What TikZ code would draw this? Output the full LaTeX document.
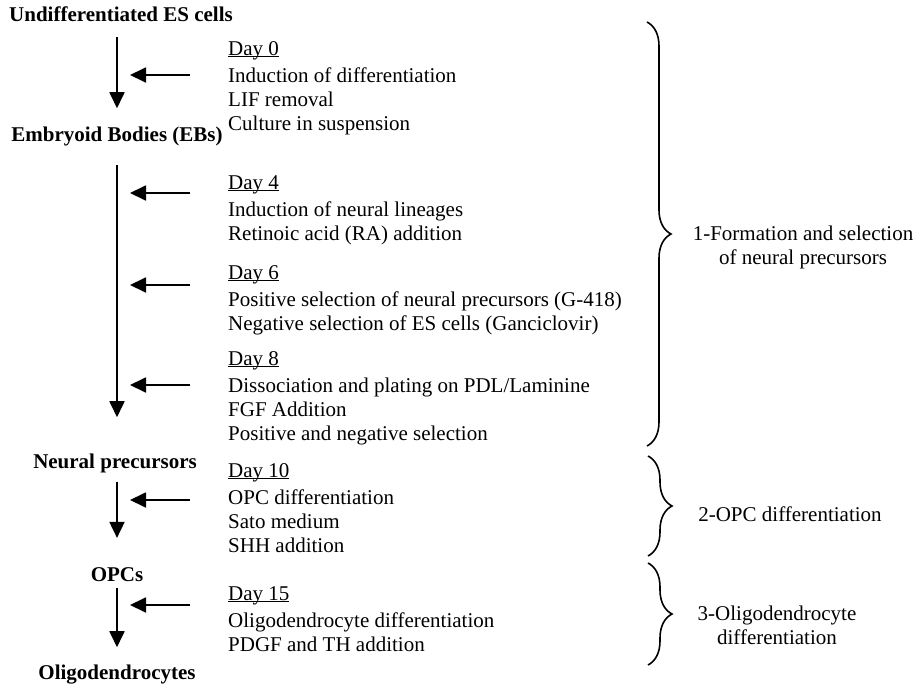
\documentclass[tikz,border=0pt]{standalone}
\usepackage{fontspec}
\setmainfont{Liberation Serif}
\usetikzlibrary{arrows.meta,decorations.pathreplacing}

\tikzset{
    stage/.style={font=\fontsize{21}{24}\selectfont\bfseries, inner sep=0pt, anchor=base},
    daytext/.style={font=\fontsize{21}{24}\selectfont, align=left, inner sep=0pt, anchor=north west},
    phasetext/.style={font=\fontsize{21}{24}\selectfont, align=center, inner sep=0pt, anchor=north},
    flow/.style={line width=1.8pt, -{Triangle[width=15pt,length=16pt]}},
    phase/.style={line width=1.6pt, decorate, decoration={brace, amplitude=24pt}}
}
\newcommand{\dayhead}[1]{\rule{0pt}{16pt}\underline{\smash{Day #1}}\\[3pt]}

\begin{document}
\begin{tikzpicture}[x=1pt, y=1pt]
            \useasboundingbox (0,0) rectangle (922,-688);
            \coordinate (ax) at (117,0);

            % Stages
            \node[stage] (es) at (121,-21) {Undifferentiated ES cells};
            \node[stage] (ebs) at (117,-141) {Embryoid Bodies (EBs)};
            \node[stage] (np) at (115,-468) {Neural precursors};
            \node[stage] (opc) at (117,-581) {OPCs};
            \node[stage] (oligo) at (117,-679) {Oligodendrocytes};

            \draw[flow, shorten <=16pt, shorten >=18pt] (es.south -| ax) -- (ebs.north -| ax);
            \draw[flow, shorten <=19pt, shorten >=36pt] (ebs.south -| ax) -- (np.north -| ax);
            \draw[flow, shorten <=9pt, shorten >=29pt] (np.south -| ax) -- (opc.north -| ax);
            \draw[flow, shorten <=7pt, shorten >=17pt] (opc.south -| ax) -- (oligo.north -| ax);

            % Treatments
            \node[daytext] (d0) at (228,-39) {\dayhead{0}Induction of differentiation\\ LIF removal\\ Culture in suspension};
            \node[daytext] (d4) at (228,-173) {\dayhead{4}Induction of neural lineages\\ Retinoic acid (RA) addition};
            \node[daytext] (d6) at (228,-263) {\dayhead{6}Positive selection of neural precursors (G-418)\\ Negative selection of ES cells (Ganciclovir)};
            \node[daytext] (d8) at (228,-349) {\dayhead{8}Dissociation and plating on PDL/Laminine\\ FGF Addition\\ Positive and negative selection};
            \node[daytext] (d10) at (228,-461) {\dayhead{10}OPC differentiation\\ Sato medium\\ SHH addition};
            \node[daytext] (d15) at (228,-584) {\dayhead{15}Oligodendrocyte differentiation\\ PDGF and TH addition};

            \coordinate (h0) at (190,-75);
            \coordinate (h4) at (190,-193);
            \coordinate (h6) at (190,-285);
            \coordinate (h8) at (190,-385);
            \coordinate (h10) at (190,-500);
            \coordinate (h15) at (190,-605);
            \foreach \h in {h0,h4,h6,h8,h10,h15}
                \draw[flow, shorten >=13pt] (\h) -- (\h -| ax);

            % Phases
            \draw[phase] (647,-22) -- (647,-446);
            \draw[phase] (648,-456) -- (648,-556);
            \draw[phase] (648,-563) -- (648,-665);
            \node[phasetext] (p1) at (803,-224) {\rule{0pt}{16pt}1-Formation and selection\\ of neural precursors};
            \node[phasetext] (p2) at (790,-505) {\rule{0pt}{16pt}2-OPC differentiation};
            \node[phasetext] (p3) at (777,-604) {\rule{0pt}{16pt}3-Oligodendrocyte\\ differentiation};
\end{tikzpicture}
\end{document}
